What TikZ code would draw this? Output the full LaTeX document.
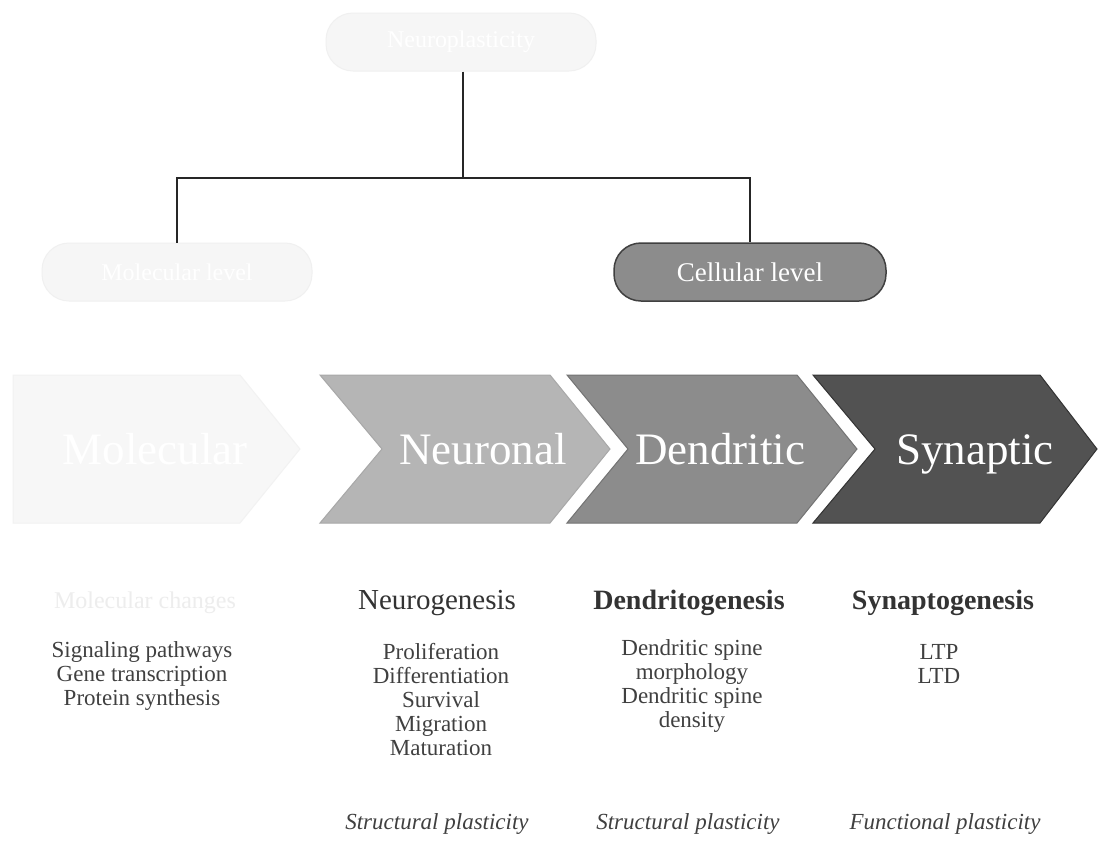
\documentclass[tikz,border=0pt]{standalone}
\usepackage{fontspec}
\setmainfont{Liberation Serif}
\begin{document}
\begin{tikzpicture}[x=1pt,y=-1pt]
\tikzset{
 conn/.style={line width=1.8pt, draw=black!85},
 faintbox/.style={rounded corners=27pt, fill=gray!7, draw=gray!12, line width=1pt, text=white, minimum width=270pt, minimum height=58pt, font=\fontsize{24}{24}\selectfont},
 cellbox/.style={rounded corners=27pt, fill=black!45, draw=black!75, line width=1.5pt, text=white, minimum width=272pt, minimum height=58pt, font=\fontsize{27}{27}\selectfont},
 chev/.style={line width=1pt},
 chevlabel/.style={text=white, anchor=base, font=\fontsize{45}{45}\selectfont},
 head/.style={text=black!80, anchor=base, font=\fontsize{29}{29}\selectfont},
 headb/.style={text=black!80, anchor=base, font=\fontsize{28}{28}\selectfont\bfseries},
 faintlabel/.style={text=gray!14, anchor=base, font=\fontsize{24}{24}\selectfont},
 item/.style={text=black!75, font=\fontsize{23}{24}\selectfont, align=center},
 note/.style={text=black!75, anchor=base, font=\fontsize{23}{23}\selectfont\itshape},
}
\useasboundingbox[fill=white] (0,0) rectangle (1098,863);

% top hierarchy
\node[faintbox] (neuro) at (461,42) {Neuroplasticity};
\node[faintbox] (mol) at (177,272) {Molecular level};
\node[cellbox] (cell) at (750,272) {Cellular level};
\coordinate (j) at (463,178);
\draw[conn] (neuro.south -| j) -- (j);
\draw[conn] (mol.north) |- (j) -| (cell.north);

% chevrons
\draw[chev, fill=gray!6, draw=gray!10] (13,375) -- (240,375) -- (300,449) -- (240,523) -- (13,523) -- cycle;
\draw[chev, fill=gray!58, draw=gray!68] (320,375) -- (550,375) -- (610,449) -- (550,523) -- (320,523) -- (382,449) -- cycle;
\draw[chev, fill=black!45, draw=black!55] (567,375) -- (797,375) -- (857,449) -- (797,523) -- (567,523) -- (628,449) -- cycle;
\draw[chev, fill=black!68, draw=black!80] (813,375) -- (1040,375) -- (1097,449) -- (1040,523) -- (813,523) -- (875,449) -- cycle;

\node[chevlabel] (lmol) at (155,464) {Molecular};
\node[chevlabel] (lneu) at (483,464) {Neuronal};
\node[chevlabel] (lden) at (720,464) {Dendritic};
\node[chevlabel] (lsyn) at (975,464) {Synaptic};

% headings
\node[faintlabel] (hmol) at (145,608) {Molecular changes};
\node[head] (hneu) at (437,609) {Neurogenesis};
\node[headb] (hden) at (689,609) {Dendritogenesis};
\node[headb] (hsyn) at (943,609) {Synaptogenesis};

% items
\node[item] (imol) at (142,676) {Signaling pathways\\Gene transcription\\Protein synthesis};
\node[item] (ineu) at (441,700) {Proliferation\\Differentiation\\Survival\\Migration\\Maturation};
\node[item] (iden) at (692,686) {Dendritic spine\\morphology\\Dendritic spine\\density};
\node[item] (isyn) at (939,664) {LTP\\LTD};

% notes
\node[note] (nneu) at (437,829) {Structural plasticity};
\node[note] (nden) at (688,829) {Structural plasticity};
\node[note] (nsyn) at (945,829) {Functional plasticity};
\end{tikzpicture}
\end{document}
